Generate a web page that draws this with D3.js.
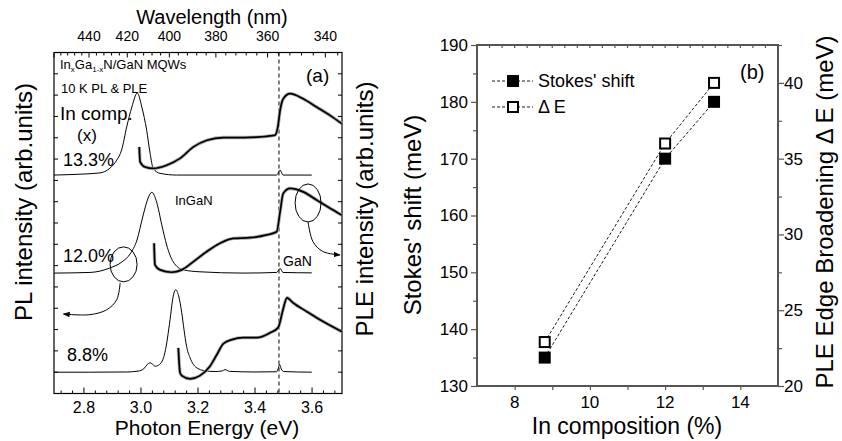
<!DOCTYPE html>
<html lang="en">
<head>
<meta charset="UTF-8">
<title>PL / PLE spectra and Stokes shift</title>
<script src="https://cdn.jsdelivr.net/npm/d3@7"></script>
<style>
    body { margin: 0; background: #fff; }
    text { font-family: "Liberation Sans", Arial, sans-serif; fill: #000; }
</style>
</head>
<body>
<div id="chart"></div>

<script>
    // ---- panel (a): spectra, [photon energy (eV), intensity (arb.)]
    var pl133 = [[2.695,10.25],[2.786,10.29],[2.856,10.35],[2.891,10.57],[2.915,10.95],[2.932,11.42],[2.950,12.51],
        [2.968,13.44],[2.987,14.10],[3.003,13.44],[3.020,12.35],[3.032,11.27],[3.043,10.56],[3.067,10.33],
        [3.125,10.25],[3.476,10.25],[3.488,10.48],[3.498,10.25],[3.599,10.25]];
    var ple133 = [[2.994,11.57],[2.997,10.87],[3.014,10.63],[3.043,10.56],[3.090,10.71],[3.137,11.03],[3.184,11.57],
        [3.231,11.88],[3.289,12.01],[3.359,12.01],[3.418,12.04],[3.470,12.12],[3.480,12.51],[3.488,13.29],
        [3.499,13.83],[3.523,14.07],[3.569,13.83],[3.616,13.44],[3.663,13.05],[3.704,12.66]];
    var pl120 = [[2.695,5.65],[2.821,5.68],[2.891,5.89],[2.934,6.18],[2.962,6.55],[2.986,7.20],[3.007,8.33],
        [3.025,9.17],[3.038,9.44],[3.055,8.98],[3.073,7.91],[3.090,6.97],[3.113,6.18],[3.149,5.80],[3.207,5.71],
        [3.358,5.65],[3.476,5.68],[3.488,5.87],[3.498,5.68],[3.599,5.66]];
    var ple120 = [[3.046,7.05],[3.049,6.04],[3.067,5.80],[3.108,5.69],[3.143,5.80],[3.184,6.19],[3.231,6.66],
        [3.277,7.05],[3.324,7.28],[3.382,7.31],[3.441,7.44],[3.476,7.59],[3.488,8.53],[3.499,9.39],[3.523,9.62],
        [3.569,9.46],[3.616,9.08],[3.663,8.69],[3.704,8.37]];
    var pl88 = [[2.695,1.00],[2.82,1.00],[2.95,1.01],[2.99,1.05],[3.010,1.16],[3.022,1.36],[3.032,1.44],[3.040,1.38],
        [3.050,1.28],[3.065,1.36],[3.084,1.92],[3.102,3.46],[3.112,4.49],[3.122,4.87],[3.132,4.58],[3.143,3.79],
        [3.151,2.99],[3.160,2.21],[3.172,1.68],[3.184,1.36],[3.200,1.17],[3.218,1.08],[3.26,1.03],[3.285,1.06],
        [3.295,1.12],[3.31,1.04],[3.40,1.01],[3.475,1.02],[3.481,1.15],[3.486,1.36],[3.492,1.15],[3.50,1.03],[3.599,1.00]];
    var ple88 = [[3.131,2.14],[3.137,0.98],[3.143,0.84],[3.172,0.69],[3.207,0.84],[3.242,1.28],[3.266,1.82],
        [3.289,2.34],[3.319,2.53],[3.358,2.62],[3.407,2.62],[3.453,2.85],[3.481,3.09],[3.498,3.93],[3.512,4.49],
        [3.533,4.26],[3.582,3.84],[3.628,3.46],[3.705,2.90]];

    var energyTicks = [2.8, 3.0, 3.2, 3.4, 3.6];
    var wavelengthTicks = [440, 420, 400, 380, 360, 340];
    var gaNEdge = 3.484;
    var sampleLabels = ["13.3%", "12.0%", "8.8%"];

    // ---- panel (b)
    var composition = [8.8, 12.0, 13.3];
    var stokesShift = [135, 170, 180];
    var broadening = [22.9, 36.0, 40.0];
    var compTicks = [8, 10, 12, 14];
    var stokesTicks = [130, 140, 150, 160, 170, 180, 190];
    var broadTicks = [20, 25, 30, 35, 40];

    var hc = 1239.84;

    var svg = d3.select("#chart")
        .append("svg")
        .attr("width", 842)
        .attr("height", 441);

    svg.append("defs").append("marker")
        .attr("id", "head")
        .attr("viewBox", "0 0 10 10")
        .attr("refX", 9).attr("refY", 5)
        .attr("markerWidth", 7).attr("markerHeight", 7)
        .attr("orient", "auto")
        .append("path")
        .attr("d", "M0,1 L10,5 L0,9 Z")
        .attr("fill", "#000");

    // =========================== panel (a)
    var a = {left: 54, right: 342, top: 52.5, bottom: 393.5};
    var xE = d3.scaleLinear().domain([2.695, 3.705]).range([a.left, a.right]);
    var yI = d3.scaleLinear().domain([0, 16]).range([a.bottom, a.top]);

    var ga = svg.append("g");

    // ticks on the energy axis: minor every 0.04 eV
    var eMinor = d3.range(68, 93).map(function(k) { return k * 0.04; });
    ga.selectAll("line.etick")
        .data(eMinor)
        .enter().append("line")
        .attr("class", "etick")
        .attr("x1", function(d) { return xE(d); })
        .attr("x2", function(d) { return xE(d); })
        .attr("y1", a.bottom)
        .attr("y2", function(d, i) { return a.bottom - ((i + 68) % 5 === 0 ? 6 : 3); })
        .attr("stroke", "#000").attr("stroke-width", 1);

    ga.selectAll("text.elab")
        .data(energyTicks)
        .enter().append("text")
        .attr("class", "elab")
        .attr("x", function(d) { return xE(d); })
        .attr("y", 413)
        .attr("text-anchor", "middle")
        .style("font-size", "16px")
        .text(function(d) { return d.toFixed(1); });

    // wavelength axis on top (non-linear in energy)
    var wMinor = d3.range(0, 32).map(function(k) { return 460 - 4 * k; });
    ga.selectAll("line.wtick")
        .data(wMinor)
        .enter().append("line")
        .attr("class", "wtick")
        .attr("x1", function(d) { return xE(hc / d); })
        .attr("x2", function(d) { return xE(hc / d); })
        .attr("y1", a.top)
        .attr("y2", function(d) { return a.top + (d % 20 === 0 ? 5 : 3); })
        .attr("stroke", "#000").attr("stroke-width", 1);

    ga.selectAll("text.wlab")
        .data(wavelengthTicks)
        .enter().append("text")
        .attr("class", "wlab")
        .attr("x", function(d) { return xE(hc / d); })
        .attr("y", 41)
        .attr("text-anchor", "middle")
        .style("font-size", "14px")
        .text(function(d) { return d; });

    // left / right intensity ticks (no labels)
    var iTicks = d3.range(1, 16);
    [a.left, a.right].forEach(function(xx, side) {
        ga.selectAll("line.itick" + side)
            .data(iTicks)
            .enter().append("line")
            .attr("class", "itick" + side)
            .attr("x1", xx)
            .attr("x2", side === 0 ? xx + 4 : xx - 4)
            .attr("y1", function(d) { return yI(d); })
            .attr("y2", function(d) { return yI(d); })
            .attr("stroke", "#000").attr("stroke-width", 1);
    });

    ga.append("rect")
        .attr("x", a.left).attr("y", a.top)
        .attr("width", a.right - a.left).attr("height", a.bottom - a.top)
        .attr("fill", "none").attr("stroke", "#000").attr("stroke-width", 1.2);

    // GaN band edge
    ga.append("line")
        .attr("x1", xE(gaNEdge)).attr("x2", xE(gaNEdge))
        .attr("y1", a.top).attr("y2", a.bottom)
        .attr("stroke", "#000").attr("stroke-width", 1)
        .attr("stroke-dasharray", "4,3");

    var line = d3.line()
        .x(function(d) { return xE(d[0]); })
        .y(function(d) { return yI(d[1]); })
        .curve(d3.curveMonotoneX);

    [pl133, pl120, pl88].forEach(function(s) {
        ga.append("path")
            .attr("d", line(s))
            .attr("fill", "none")
            .attr("stroke", "#000")
            .attr("stroke-width", 1);
    });

    // PLE spectra are noisy: grey halo under a heavier black trace
    [ple133, ple120, ple88].forEach(function(s) {
        ga.append("path")
            .attr("d", line(s))
            .attr("fill", "none")
            .attr("stroke", "#aaa")
            .attr("stroke-width", 3.4);
        ga.append("path")
            .attr("d", line(s))
            .attr("fill", "none")
            .attr("stroke", "#000")
            .attr("stroke-width", 1.7);
    });

    // circled regions and arrows pointing to the axis that applies
    var ellipses = [{e: 2.939, v: 6.06, rx: 13.5, ry: 17.5}, {e: 3.586, v: 8.94, rx: 13, ry: 19}];
    ga.selectAll("ellipse")
        .data(ellipses)
        .enter().append("ellipse")
        .attr("cx", function(d) { return xE(d.e); })
        .attr("cy", function(d) { return yI(d.v); })
        .attr("rx", function(d) { return d.rx; })
        .attr("ry", function(d) { return d.ry; })
        .attr("fill", "none").attr("stroke", "#000").attr("stroke-width", 1);

    var arrows = [
        [[2.927,5.19],[2.915,4.40],[2.880,3.93],[2.821,3.70],[2.728,3.73]],
        [[3.586,8.05],[3.603,7.13],[3.638,6.66],[3.698,6.50]]
    ];
    var arrowLine = d3.line()
        .x(function(d) { return xE(d[0]); })
        .y(function(d) { return yI(d[1]); })
        .curve(d3.curveCatmullRom);
    arrows.forEach(function(s) {
        ga.append("path")
            .attr("d", arrowLine(s))
            .attr("fill", "none").attr("stroke", "#000").attr("stroke-width", 1)
            .attr("marker-end", "url(#head)");
    });

    // annotations
    var t1 = ga.append("text").attr("x", 60).attr("y", 69).style("font-size", "13px");
    t1.append("tspan").text("In");
    t1.append("tspan").attr("dy", 3).style("font-size", "8px").text("x");
    t1.append("tspan").attr("dy", -3).text("Ga");
    t1.append("tspan").attr("dy", 3).style("font-size", "8px").text("1-x");
    t1.append("tspan").attr("dy", -3).text("N/GaN MQWs");

    ga.append("text").attr("x", 61).attr("y", 93).style("font-size", "13px").text("10 K PL & PLE");
    ga.append("text").attr("x", 306).attr("y", 82).style("font-size", "19px").text("(a)");
    ga.append("text").attr("x", 60).attr("y", 120).style("font-size", "19px").text("In comp.");
    ga.append("text").attr("x", 77).attr("y", 141).style("font-size", "17px").text("(x)");
    ga.append("text").attr("x", 175).attr("y", 205).style("font-size", "13px").text("InGaN");
    ga.append("text").attr("x", 283).attr("y", 266).style("font-size", "14px").text("GaN");

    var labelY = [166, 262, 361];
    ga.selectAll("text.sample")
        .data(sampleLabels)
        .enter().append("text")
        .attr("class", "sample")
        .attr("x", function(d, i) { return i === 2 ? 67 : 63; })
        .attr("y", function(d, i) { return labelY[i]; })
        .style("font-size", "18px")
        .text(function(d) { return d; });

    ga.append("text")
        .attr("x", 207).attr("y", 435)
        .attr("text-anchor", "middle")
        .style("font-size", "21px")
        .text("Photon Energy (eV)");
    ga.append("text")
        .attr("x", 212).attr("y", 24)
        .attr("text-anchor", "middle")
        .style("font-size", "20px")
        .text("Wavelength (nm)");
    ga.append("text")
        .attr("transform", "translate(32,202) rotate(-90)")
        .attr("text-anchor", "middle")
        .style("font-size", "24px")
        .text("PL intensity (arb.units)");
    ga.append("text")
        .attr("transform", "translate(373,209) rotate(-90)")
        .attr("text-anchor", "middle")
        .style("font-size", "24px")
        .text("PLE intensity (arb.units)");

    // =========================== panel (b)
    var b = {left: 477, right: 778, top: 45, bottom: 386};
    var xC = d3.scaleLinear().domain([7, 15]).range([b.left, b.right]);
    var yS = d3.scaleLinear().domain([130, 190]).range([b.bottom, b.top]);
    var yB = d3.scaleLinear().domain([20, 42.5]).range([b.bottom, b.top]);
    var axisColor = "#555";

    var gb = svg.append("g");

    // left axis
    gb.append("g")
        .attr("transform", "translate(" + b.left + ",0)")
        .call(d3.axisLeft(yS).tickValues(d3.range(130, 191, 5)).tickSize(5).tickFormat(""))
        .call(function(g) {
            g.select(".domain").remove();
            g.selectAll(".tick line").attr("stroke", axisColor).attr("stroke-width", 1.2)
                .attr("x2", function(d) { return d % 10 === 0 ? -6 : -4; });
        });
    gb.selectAll("text.slab")
        .data(stokesTicks)
        .enter().append("text")
        .attr("class", "slab")
        .attr("x", b.left - 9)
        .attr("y", function(d) { return yS(d); })
        .attr("dy", "0.35em")
        .attr("text-anchor", "end")
        .style("font-size", "17px")
        .text(function(d) { return d; });

    // right axis
    gb.append("g")
        .attr("transform", "translate(" + b.right + ",0)")
        .call(d3.axisRight(yB).tickValues(d3.range(20, 42.6, 2.5)).tickSize(5).tickFormat(""))
        .call(function(g) {
            g.select(".domain").remove();
            g.selectAll(".tick line").attr("stroke", axisColor).attr("stroke-width", 1.2)
                .attr("x2", function(d) { return d % 5 === 0 ? 6 : 4; });
        });
    gb.selectAll("text.blab")
        .data(broadTicks)
        .enter().append("text")
        .attr("class", "blab")
        .attr("x", b.right + 6)
        .attr("y", function(d) { return yB(d); })
        .attr("dy", "0.35em")
        .style("font-size", "17px")
        .text(function(d) { return d; });

    // bottom axis
    gb.append("g")
        .attr("transform", "translate(0," + b.bottom + ")")
        .call(d3.axisBottom(xC).tickValues(d3.range(8, 15, 1)).tickSize(4).tickFormat(""))
        .call(function(g) {
            g.select(".domain").remove();
            g.selectAll(".tick line").attr("stroke", axisColor).attr("stroke-width", 1.2);
        });
    gb.selectAll("text.clab")
        .data(compTicks)
        .enter().append("text")
        .attr("class", "clab")
        .attr("x", function(d) { return xC(d); })
        .attr("y", 408)
        .attr("text-anchor", "middle")
        .style("font-size", "17px")
        .text(function(d) { return d; });

    // top axis: small inward ticks
    gb.selectAll("line.ttick")
        .data(d3.range(1, 24).map(function(k) { return 7 + k / 3; }))
        .enter().append("line")
        .attr("class", "ttick")
        .attr("x1", function(d) { return xC(d); })
        .attr("x2", function(d) { return xC(d); })
        .attr("y1", b.top).attr("y2", b.top + 3)
        .attr("stroke", axisColor).attr("stroke-width", 1.2);

    gb.append("rect")
        .attr("x", b.left).attr("y", b.top)
        .attr("width", b.right - b.left).attr("height", b.bottom - b.top)
        .attr("fill", "none").attr("stroke", axisColor).attr("stroke-width", 2);

    // dashed connecting lines
    var stokesPts = composition.map(function(c, i) { return [xC(c), yS(stokesShift[i])]; });
    var broadPts = composition.map(function(c, i) { return [xC(c), yB(broadening[i])]; });
    [stokesPts, broadPts].forEach(function(p) {
        gb.append("path")
            .attr("d", d3.line()(p))
            .attr("fill", "none")
            .attr("stroke", "#000")
            .attr("stroke-width", 0.9)
            .attr("stroke-dasharray", "3,2");
    });

    var sq = 12;
    gb.selectAll("rect.stokes")
        .data(stokesPts)
        .enter().append("rect")
        .attr("class", "stokes")
        .attr("x", function(d) { return d[0] - sq / 2; })
        .attr("y", function(d) { return d[1] - sq / 2; })
        .attr("width", sq).attr("height", sq)
        .attr("fill", "#000");
    gb.selectAll("rect.broad")
        .data(broadPts)
        .enter().append("rect")
        .attr("class", "broad")
        .attr("x", function(d) { return d[0] - sq / 2 + 1; })
        .attr("y", function(d) { return d[1] - sq / 2 + 1; })
        .attr("width", sq - 2).attr("height", sq - 2)
        .attr("fill", "#fff").attr("stroke", "#000").attr("stroke-width", 2);

    // legend
    var legend = [{name: "Stokes' shift", fill: "#000"}, {name: "\u0394\u2009E", fill: "#fff"}];
    var lg = gb.selectAll("g.legend")
        .data(legend)
        .enter().append("g")
        .attr("class", "legend")
        .attr("transform", function(d, i) { return "translate(513," + (81 + i * 26) + ")"; });
    lg.append("line")
        .attr("x1", -21).attr("x2", 20)
        .attr("stroke", "#000").attr("stroke-width", 0.9)
        .attr("stroke-dasharray", "3,2");
    lg.append("rect")
        .attr("x", function(d) { return d.fill === "#000" ? -6 : -5; })
        .attr("y", function(d) { return d.fill === "#000" ? -6 : -5; })
        .attr("width", function(d) { return d.fill === "#000" ? 12 : 10; })
        .attr("height", function(d) { return d.fill === "#000" ? 12 : 10; })
        .attr("fill", function(d) { return d.fill; })
        .attr("stroke", "#000")
        .attr("stroke-width", function(d) { return d.fill === "#000" ? 0 : 2; });
    lg.append("text")
        .attr("x", 25)
        .attr("dy", "0.35em")
        .style("font-size", "18px")
        .text(function(d) { return d.name; });

    gb.append("text").attr("x", 740).attr("y", 79).style("font-size", "20px").text("(b)");

    gb.append("text")
        .attr("x", 627).attr("y", 434)
        .attr("text-anchor", "middle")
        .style("font-size", "23px")
        .text("In composition (%)");
    gb.append("text")
        .attr("transform", "translate(421,215) rotate(-90)")
        .attr("text-anchor", "middle")
        .style("font-size", "24px")
        .text("Stokes' shift (meV)");
    gb.append("text")
        .attr("transform", "translate(833,212) rotate(-90)")
        .attr("text-anchor", "middle")
        .style("font-size", "24px")
        .text("PLE Edge Broadening \u0394\u2009E (meV)");
</script>
</body>
</html>
